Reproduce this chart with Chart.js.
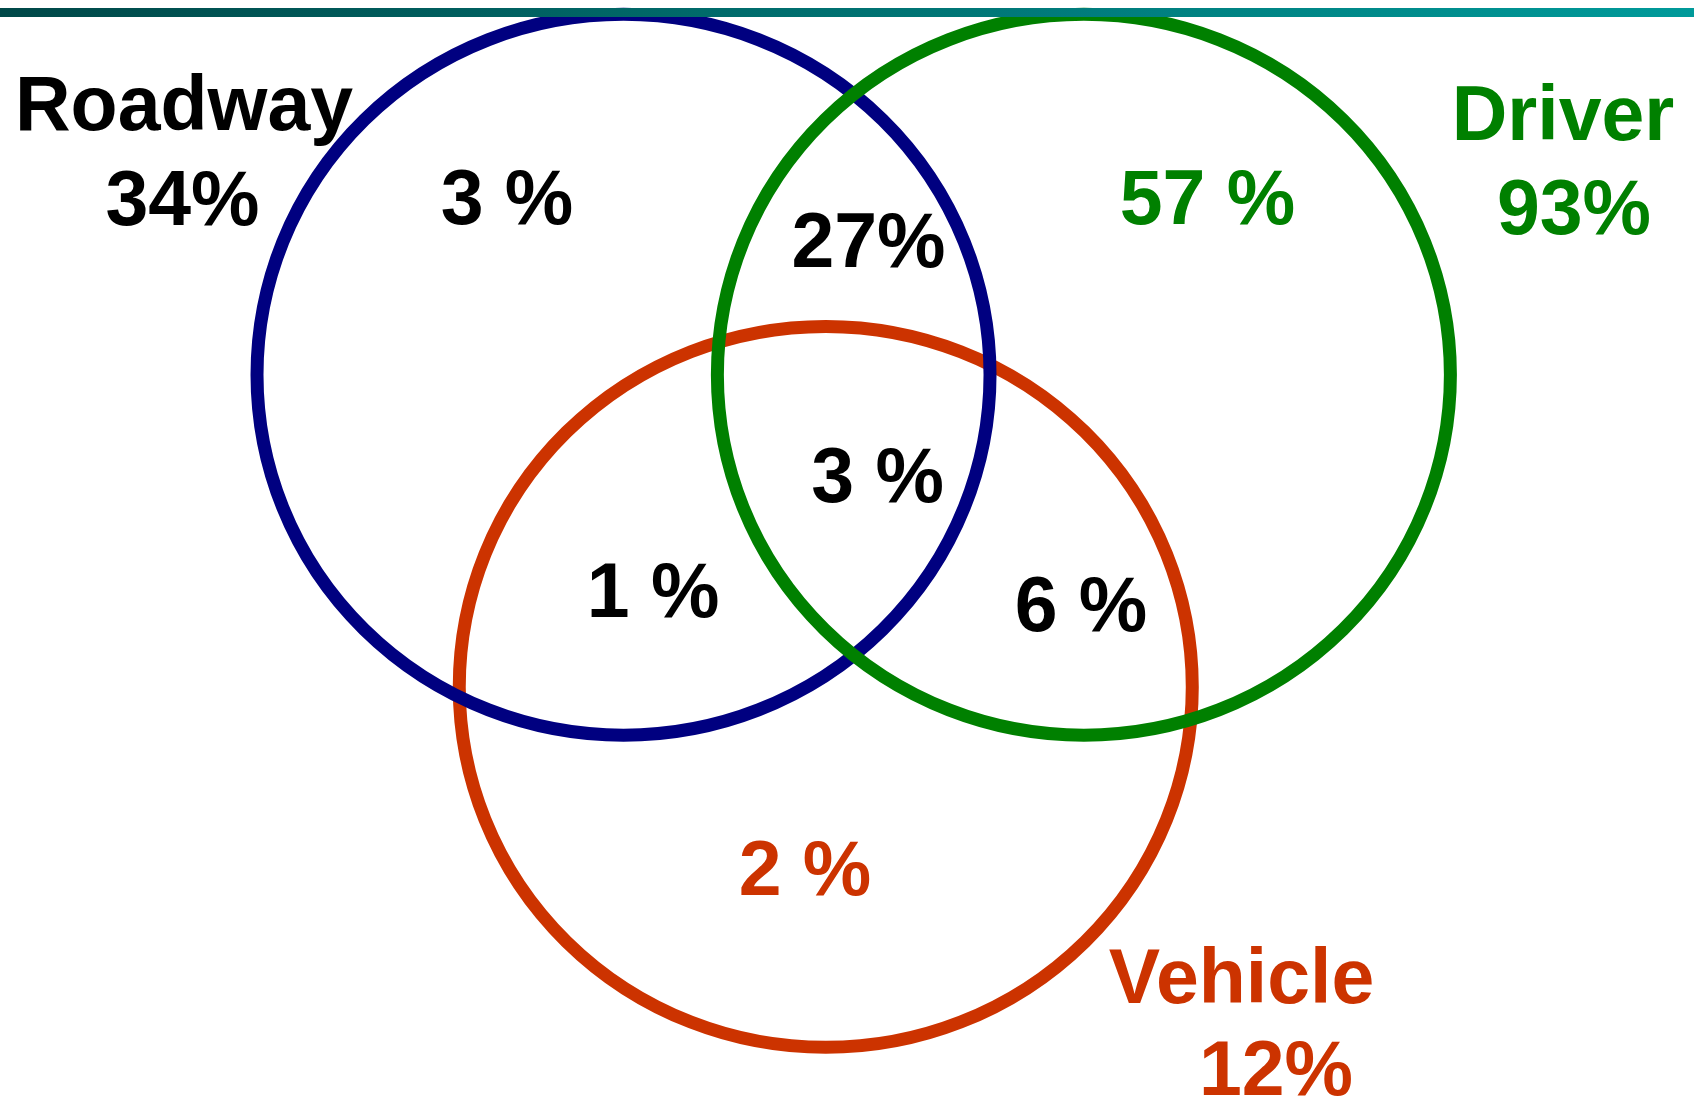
<!DOCTYPE html>
<html>
<head>
<meta charset="utf-8">
<title>Roadway / Driver / Vehicle</title>
<script src="https://cdn.jsdelivr.net/npm/chart.js@4/dist/chart.umd.min.js"></script>
<style>
  html, body { margin: 0; padding: 0; background: #fff; overflow: hidden; }
  #venn { display: block; }
</style>
</head>
<body>
<canvas id="venn" width="1694" height="1099"></canvas>
<script>
// data
const sets = ["Roadway", "Driver", "Vehicle"];
const setTotals = [34, 93, 12];
const regions = ["Roadway only", "Driver only", "Vehicle only", "Roadway+Driver", "Roadway+Vehicle", "Driver+Vehicle", "All three"];
const regionValues = [3, 57, 2, 27, 1, 6, 3];

// layout (data units of the venn plane)
const setCenterX = [55.8, 97.0, 73.9];
const setCenterY = [65.9, 65.9, 37.5];
const setRadius = 32.8;
const setColors = ["#000080", "#008000", "#cc3300"];
const setTextColors = ["#000000", "#008000", "#cc3300"];
const drawOrder = [2, 0, 1];

const nameX = [16.47, 139.88, 111.11];
const nameY = [88.17, 87.26, 8.74];
const totalX = [16.33, 140.86, 114.19];
const totalY = [79.53, 78.71, 0.36];

const regionX = [45.37, 108.06, 72.04, 77.72, 58.44, 96.74, 78.53];
const regionY = [79.62, 79.62, 18.56, 75.71, 43.90, 42.54, 54.28];
const regionColors = ["#000000", "#008000", "#cc3300", "#000000", "#000000", "#000000", "#000000"];
const regionSpaced = [true, true, true, false, true, true, true];

const labelFont = 'bold 77px "Liberation Sans", Arial, sans-serif';

const vennPlugin = {
    id: "venn",
    afterDatasetsDraw(chart) {
        const ctx = chart.ctx;
        const xs = chart.scales.x;
        const ys = chart.scales.y;
        const meta = chart.getDatasetMeta(0);
        const rx = xs.getPixelForValue(setRadius) - xs.getPixelForValue(0);
        const ry = ys.getPixelForValue(0) - ys.getPixelForValue(setRadius);

        ctx.save();
        ctx.lineWidth = 13;
        drawOrder.forEach((i) => {
            const pt = meta.data[i];
            ctx.beginPath();
            ctx.ellipse(pt.x, pt.y, rx, ry, 0, 0, Math.PI * 2);
            ctx.strokeStyle = setColors[i];
            ctx.stroke();
        });

        ctx.font = labelFont;
        ctx.textAlign = "center";
        ctx.textBaseline = "alphabetic";
        sets.forEach((name, i) => {
            ctx.fillStyle = setTextColors[i];
            ctx.fillText(name, xs.getPixelForValue(nameX[i]), ys.getPixelForValue(nameY[i]));
            ctx.fillText(setTotals[i] + "%", xs.getPixelForValue(totalX[i]), ys.getPixelForValue(totalY[i]));
        });
        regionValues.forEach((v, i) => {
            ctx.fillStyle = regionColors[i];
            const txt = regionSpaced[i] ? v + " %" : v + "%";
            ctx.fillText(txt, xs.getPixelForValue(regionX[i]), ys.getPixelForValue(regionY[i]));
        });

        // header rule
        const grad = ctx.createLinearGradient(0, 0, chart.width, 0);
        grad.addColorStop(0, "#004848");
        grad.addColorStop(1, "#009a9a");
        ctx.fillStyle = grad;
        ctx.fillRect(0, 8, chart.width, 9);
        ctx.restore();
    }
};

new Chart(document.getElementById("venn"), {
    type: "bubble",
    data: {
        labels: sets,
        datasets: [{
            label: "sets",
            data: sets.map((s, i) => ({ x: setCenterX[i], y: setCenterY[i], r: 0 })),
            backgroundColor: "rgba(0,0,0,0)",
            borderWidth: 0,
            hoverRadius: 0
        }]
    },
    options: {
        responsive: false,
        devicePixelRatio: 1,
        animation: false,
        events: [],
        layout: { padding: 0 },
        plugins: {
            legend: { display: false },
            tooltip: { enabled: false }
        },
        scales: {
            x: { type: "linear", min: 0, max: 151.6, display: false },
            y: { type: "linear", min: 0, max: 100, display: false }
        }
    },
    plugins: [vennPlugin]
});
</script>
</body>
</html>
